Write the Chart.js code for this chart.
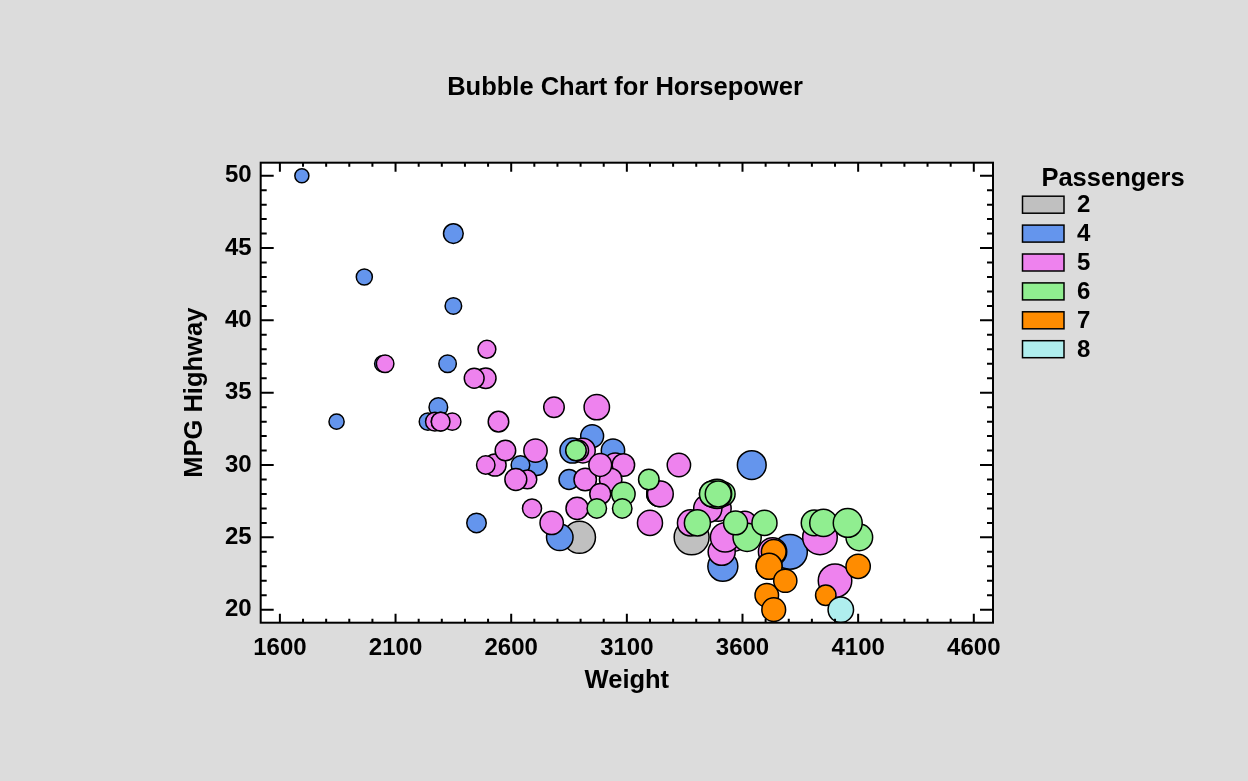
<!DOCTYPE html>
<html>
<head>
<meta charset="utf-8">
<title>Bubble Chart for Horsepower</title>
<script src="https://cdn.jsdelivr.net/npm/chart.js@4.4.1/dist/chart.umd.min.js"></script>
<style>
  html, body { margin: 0; padding: 0; background: #dcdcdc; }
  canvas { display: block; }
</style>
</head>
<body>
<canvas id="bubbleChart" width="1248" height="781"></canvas>
<script>
// Passenger groups and their colours
const groups = ['2', '4', '5', '6', '7', '8'];
const groupColors = ['#C0C0C0', '#6495ED', '#EE82EE', '#90EE90', '#FF8C00', '#AFEEEE'];

// Weight / MPG Highway / Horsepower per passenger group
const weight2 = [3380, 2895];
const mpg2 = [25, 25];
const hp2 = [300, 255];

const weight4 = [3640, 3240, 3805, 1845, 2850, 2710, 1695, 2475, 2865, 2350, 3040, 2285, 3515, 2325, 2450, 2640, 2350, 3240, 2045, 1965, 2950, 2240, 2810];
const mpg4 = [30, 28, 24, 33, 29, 30, 50, 36, 31, 46, 31, 34, 23, 37, 26, 30, 41, 28, 37, 43, 32, 33, 25];
const hp4 = [208, 160, 300, 63, 105, 115, 55, 90, 160, 102, 140, 92, 225, 82, 100, 92, 74, 160, 73, 70, 135, 81, 178];

const weight5 = [2705, 3560, 3375, 3495, 3935, 2490, 2785, 2270, 2670, 2295, 2530, 2690, 3325, 2345, 2620, 2885, 4000, 3510, 2440, 2970, 2920, 3525, 3610, 2295, 3730, 2545, 3050, 3200, 2910, 2890, 2575, 3450, 2775, 2495, 2490, 3085, 2055, 3030, 2985, 2985, 3245];
const mpg5 = [31, 25, 26, 27, 25, 36, 34, 33, 29, 33, 30, 27, 30, 33, 29, 27, 22, 24, 36, 34, 29, 25, 26, 33, 24, 33, 30, 26, 31, 31, 31, 27, 26, 38, 30, 30, 37, 29, 30, 28, 28];
const hp5 = [140, 200, 172, 170, 295, 110, 110, 92, 93, 92, 127, 96, 140, 81, 124, 128, 278, 185, 103, 164, 130, 217, 140, 92, 202, 110, 150, 160, 155, 110, 110, 200, 140, 85, 90, 130, 82, 130, 134, 114, 168];

const weight6 = [3405, 2880, 3470, 4105, 3620, 3195, 3910, 3515, 3085, 3570, 2970, 3080, 3490, 3950, 3695, 4055, 3470, 3495];
const mpg6 = [26, 31, 28, 25, 25, 29, 26, 28, 28, 26, 27, 27, 28, 26, 26, 26, 28, 28];
const hp6 = [172, 110, 170, 180, 200, 110, 170, 153, 141, 147, 100, 100, 214, 190, 160, 210, 170, 170];

const weight7 = [3715, 3705, 3735, 3735, 4100, 3715, 3785, 3960];
const mpg7 = [23, 21, 20, 24, 23, 23, 22, 21];
const hp7 = [170, 142, 145, 155, 151, 170, 138, 109];

const weight8 = [4025];
const mpg8 = [20];
const hp8 = [165];

// Axis ticks
const xTicks = [1600, 2100, 2600, 3100, 3600, 4100, 4600];
const yTicks = [20, 25, 30, 35, 40, 45, 50];

const weights = [weight2, weight4, weight5, weight6, weight7, weight8];
const mpgs = [mpg2, mpg4, mpg5, mpg6, mpg7, mpg8];
const hps = [hp2, hp4, hp5, hp6, hp7, hp8];

const FONT = '"Liberation Sans", Arial, sans-serif';
const tickFont = { family: FONT, size: 24, weight: 'bold' };
const titleFont = { family: FONT, size: 25.5, weight: 'bold' };

// bubble radius from horsepower
function hpToRadius(hp) {
  return 1.05 * Math.sqrt(hp) - 0.75;
}

const datasets = groups.map((g, i) => ({
  label: g,
  data: weights[i].map((w, j) => ({ x: w, y: mpgs[i][j], r: hpToRadius(hps[i][j]) })),
  backgroundColor: groupColors[i],
  borderColor: '#000',
  borderWidth: 1.5,
  order: groups.length - i   // later groups drawn on top
}));

// Background, plot frame and inward ticks
const framePlugin = {
  id: 'frame',
  beforeDraw(chart) {
    const { ctx, chartArea: a } = chart;
    ctx.save();
    ctx.fillStyle = '#dcdcdc';
    ctx.fillRect(0, 0, chart.width, chart.height);
    ctx.fillStyle = '#fff';
    ctx.fillRect(a.left, a.top, a.right - a.left, a.bottom - a.top);
    ctx.restore();
  },
  afterDatasetsDraw(chart) {
    const { ctx, chartArea: a, scales } = chart;
    const xs = scales.x, ys = scales.y;
    ctx.save();
    ctx.strokeStyle = '#000';
    ctx.lineWidth = 2;
    ctx.strokeRect(a.left, a.top, a.right - a.left, a.bottom - a.top);

    ctx.beginPath();
    for (let v = Math.ceil(xs.min / 100) * 100; v <= xs.max; v += 100) {
      const px = xs.getPixelForValue(v);
      const len = xTicks.includes(v) ? 9 : 4;
      ctx.moveTo(px, a.bottom); ctx.lineTo(px, a.bottom - len);
      ctx.moveTo(px, a.top); ctx.lineTo(px, a.top + len);
    }
    for (let v = Math.ceil(ys.min); v <= ys.max; v += 1) {
      const py = ys.getPixelForValue(v);
      const len = yTicks.includes(v) ? 13 : 6;
      ctx.moveTo(a.left, py); ctx.lineTo(a.left + len, py);
      ctx.moveTo(a.right, py); ctx.lineTo(a.right - len, py);
    }
    ctx.stroke();
    ctx.restore();
  },
  afterDraw(chart) {
    const { ctx } = chart;
    ctx.save();
    ctx.fillStyle = '#000';
    ctx.font = 'bold 25.5px ' + FONT;
    ctx.textAlign = 'center';
    ctx.textBaseline = 'alphabetic';
    ctx.fillText('Bubble Chart for Horsepower', 625, 95);

    // legend
    ctx.fillText('Passengers', 1113, 186);
    ctx.font = 'bold 24px ' + FONT;
    ctx.textAlign = 'left';
    ctx.textBaseline = 'middle';
    ctx.lineWidth = 1.5;
    ctx.strokeStyle = '#000';
    chart.data.datasets.forEach((ds, i) => {
      const cy = 204.7 + i * 28.9;
      ctx.fillStyle = ds.backgroundColor;
      ctx.fillRect(1022.5, cy - 8.5, 41.5, 17);
      ctx.strokeRect(1022.5, cy - 8.5, 41.5, 17);
      ctx.fillStyle = '#000';
      ctx.fillText(ds.label, 1077, cy + 1);
    });
    ctx.restore();
  }
};

new Chart(document.getElementById('bubbleChart'), {
  type: 'bubble',
  data: { datasets },
  options: {
    responsive: false,
    devicePixelRatio: 1,
    animation: false,
    layout: { padding: { left: 179.7, right: 255, top: 162.7, bottom: 84.7 } },
    plugins: {
      legend: { display: false },
      tooltip: { enabled: false },
      title: { display: false }
    },
    scales: {
      x: {
        type: 'linear',
        min: 1517,
        max: 4683,
        afterBuildTicks: s => { s.ticks = xTicks.map(v => ({ value: v })); },
        afterFit: s => { s.height = 73.6; },
        grid: { display: false, drawTicks: false },
        border: { display: false },
        ticks: { font: tickFont, color: '#000', padding: 11, maxRotation: 0, autoSkip: false, callback: v => String(v) },
        title: { display: true, text: 'Weight', font: titleFont, color: '#000', padding: 0 }
      },
      y: {
        type: 'linear',
        min: 19.1,
        max: 50.9,
        afterBuildTicks: s => { s.ticks = yTicks.map(v => ({ value: v })); },
        afterFit: s => { s.width = 81; },
        grid: { display: false, drawTicks: false },
        border: { display: false },
        ticks: { font: tickFont, color: '#000', padding: 9, autoSkip: false, callback: v => String(v) },
        title: { display: true, text: 'MPG Highway', font: titleFont, color: '#000', padding: 0 }
      }
    }
  },
  plugins: [framePlugin]
});
</script>
</body>
</html>
